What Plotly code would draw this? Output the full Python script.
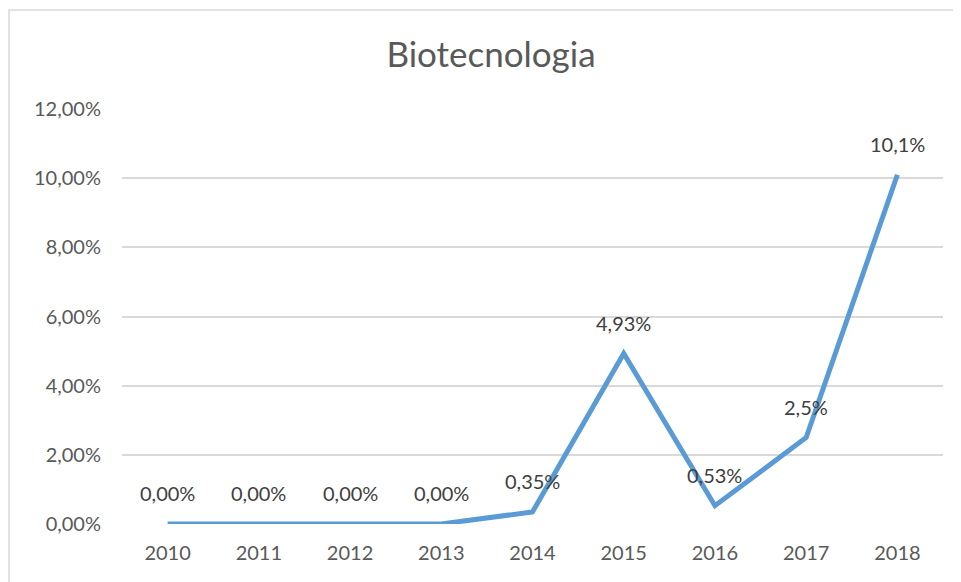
import plotly.graph_objects as go

years = ["2010", "2011", "2012", "2013", "2014", "2015", "2016", "2017", "2018"]
values = [0.0, 0.0, 0.0, 0.0, 0.0035, 0.0493, 0.0053, 0.025, 0.101]
labels = ["0,00%", "0,00%", "0,00%", "0,00%", "0,35%", "4,93%", "0,53%", "2,5%", "10,1%"]

FONT = "Lato, 'Open Sans', sans-serif"
LINE_COLOR = "#5B9BD5"
TICK_COLOR = "#595959"
LABEL_COLOR = "#404040"
GRID_COLOR = "#D9D9D9"

# page body has an 8px margin, so the figure is a bit smaller than the window
W, H = 953, 574

fig = go.Figure()
fig.add_trace(
    go.Scatter(
        x=years,
        y=values,
        mode="lines",
        line=dict(color=LINE_COLOR, width=5),
        hoverinfo="skip",
    )
)

# data labels above each point (x as category index)
for i, (y, t) in enumerate(zip(values, labels)):
    fig.add_annotation(
        x=i, y=y, text=t, showarrow=False, yshift=31,
        font=dict(family=FONT, size=20, color=LABEL_COLOR),
    )

# chart border (Excel-style frame)
fig.add_shape(
    type="rect", xref="paper", yref="paper",
    x0=-0.1376, x1=1.2, y0=-0.3, y1=1.2386,
    line=dict(color=GRID_COLOR, width=1.5),
)

fig.update_xaxes(
    type="category",
    range=[-0.5, 8.5],
    showgrid=False,
    showline=False,
    zeroline=False,
    ticks="",
    ticklabelstandoff=15,
    tickfont=dict(family=FONT, size=20, color=TICK_COLOR),
)
fig.update_yaxes(
    range=[0, 0.12],
    dtick=0.02,
    tickformat=".2%",
    showgrid=True,
    gridcolor=GRID_COLOR,
    gridwidth=1.5,
    zeroline=False,
    showline=False,
    ticks="",
    ticklabelstandoff=20,
    tickfont=dict(family=FONT, size=20, color=TICK_COLOR),
)

fig.update_layout(
    width=W,
    height=H,
    separators=",.",
    showlegend=False,
    plot_bgcolor="white",
    paper_bgcolor="white",
    margin=dict(l=114, r=18, t=101, b=58, pad=0),
    title=dict(
        text="Biotecnologia",
        x=483 / W,
        xanchor="center",
        y=1 - 47 / H,
        yanchor="middle",
        font=dict(family=FONT, size=35, color=TICK_COLOR),
    ),
)

fig.write_html("out.html")
